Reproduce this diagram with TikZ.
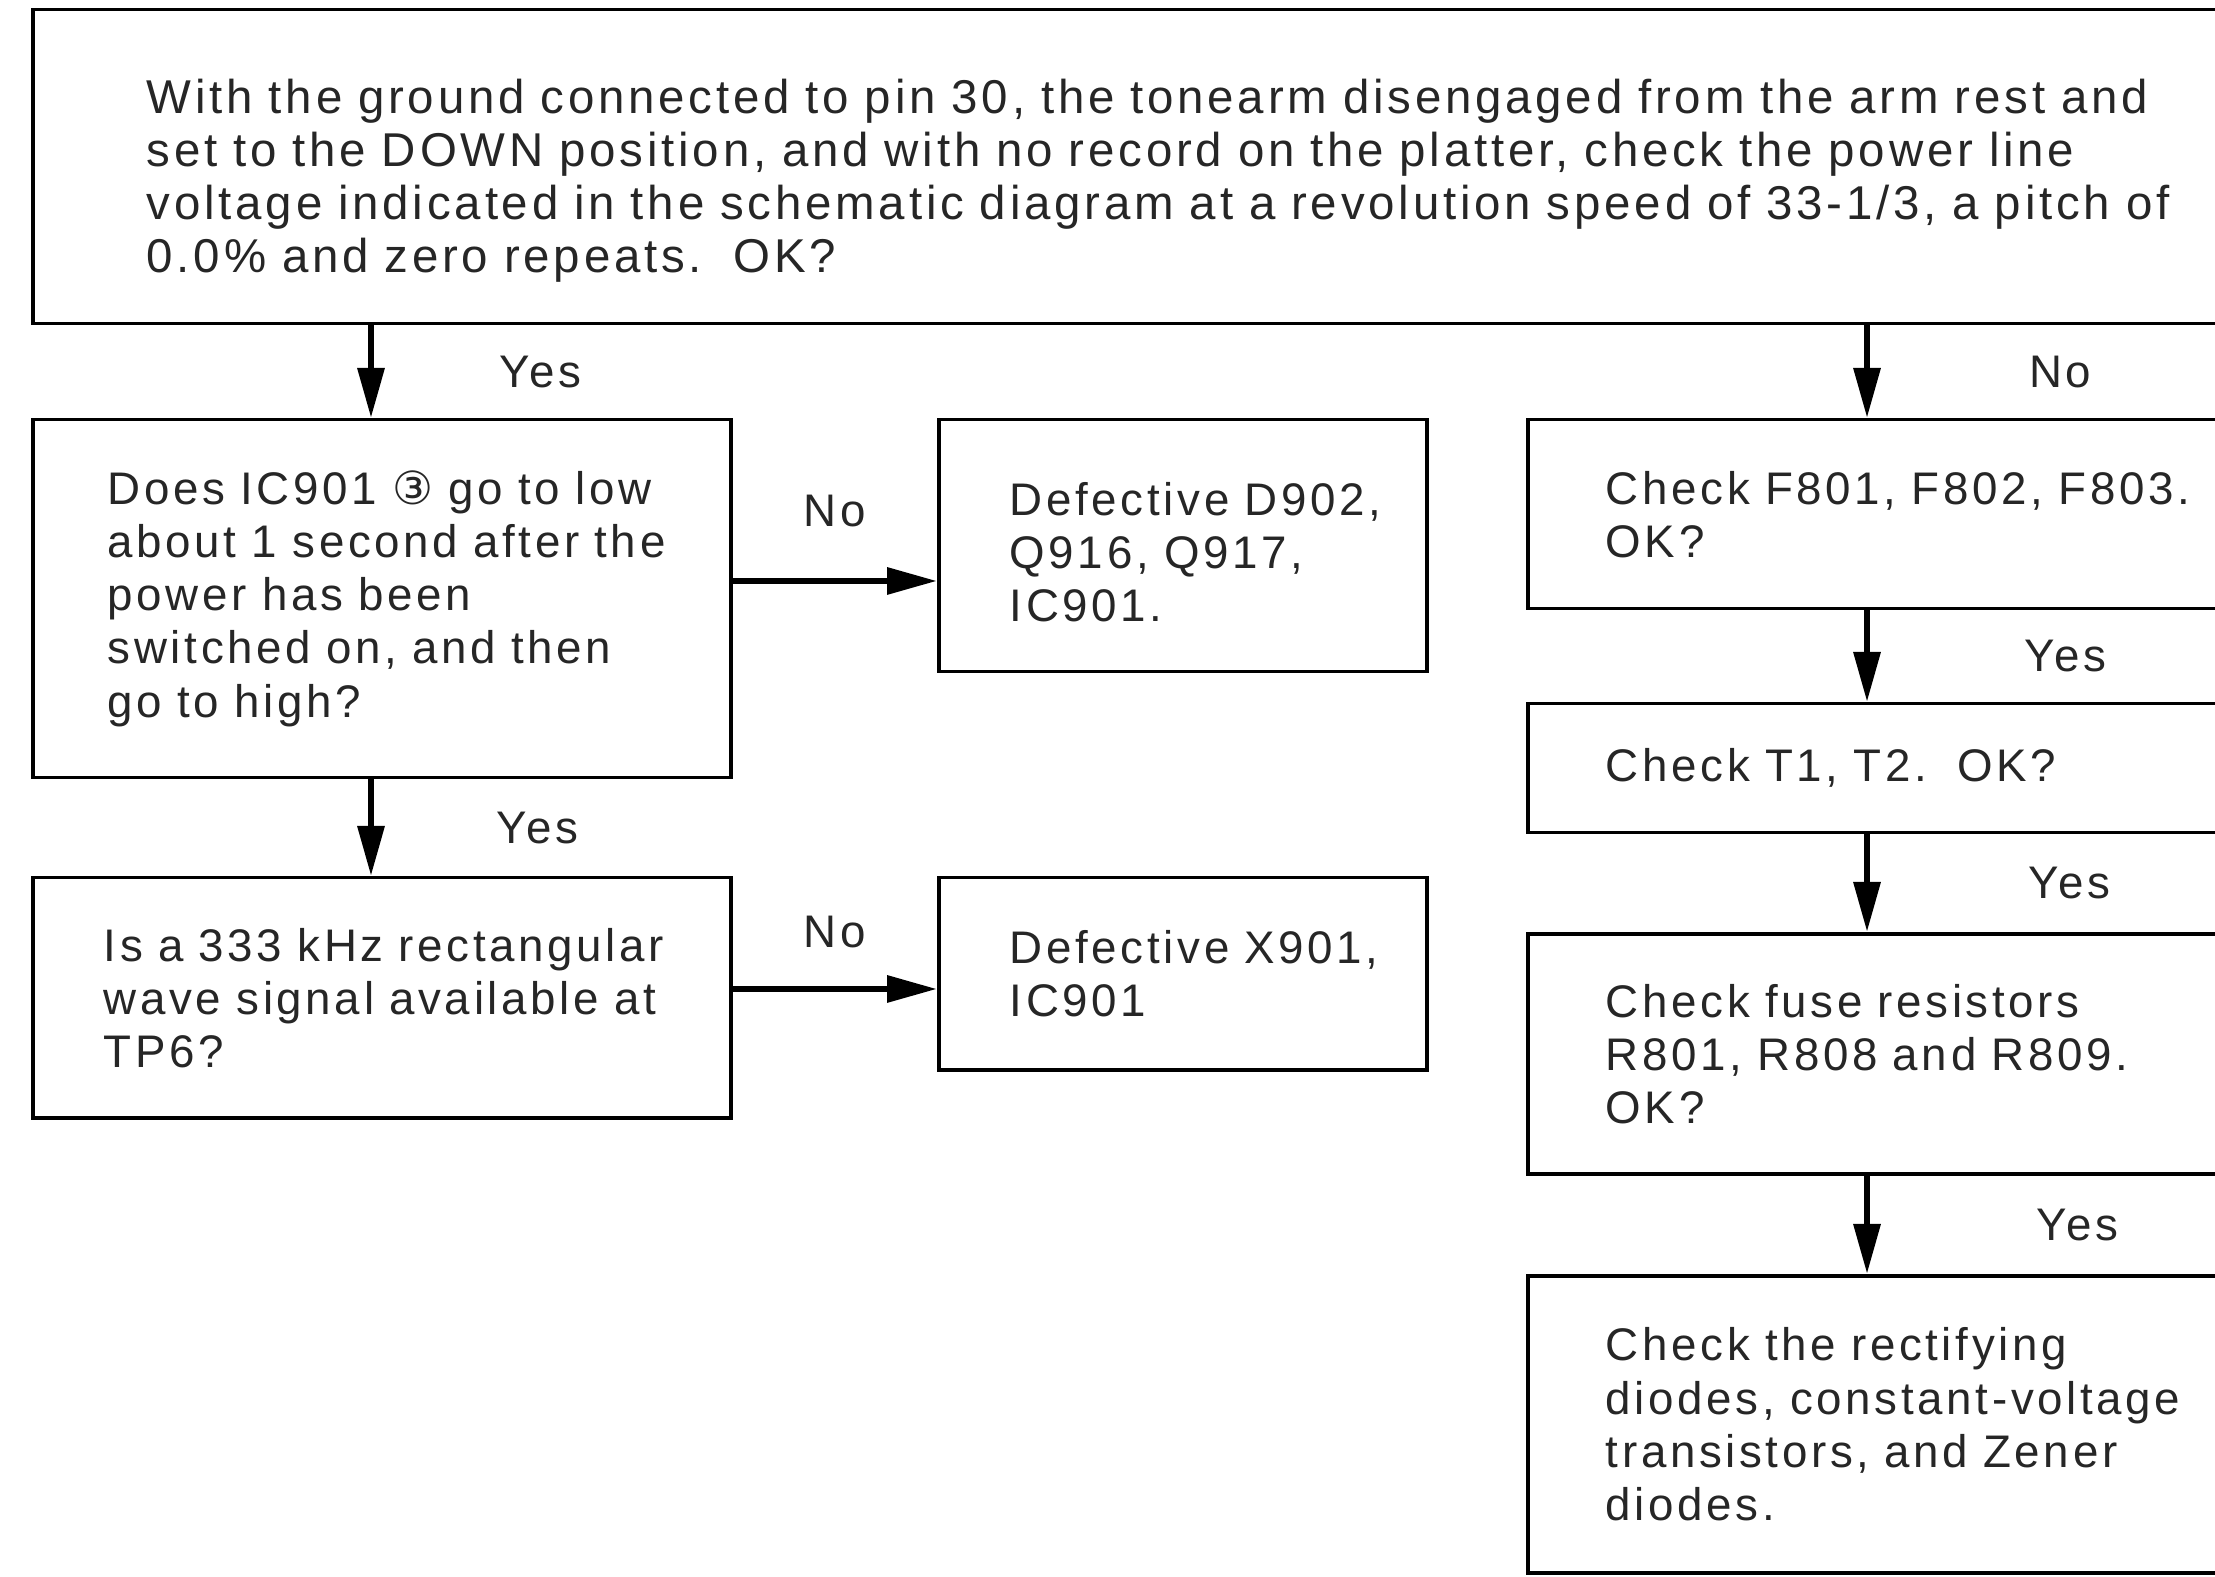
\documentclass[tikz,border=0pt]{standalone}
\usepackage{fontspec}
\setmainfont{Liberation Sans}[LetterSpace=8,WordSpace=1.5]
\newfontfamily\symfont{DejaVu Sans}
\usetikzlibrary{arrows.meta,positioning}

\begin{document}
\begin{tikzpicture}[
  box/.style={draw,line width=1pt,inner xsep=0pt,inner ysep=0pt,align=left,anchor=north west,
    text=black!85,font=\fontsize{13}{15.1}\selectfont,execute at begin node={\leftskip=#1}},
  box/.default=7.1mm,
  flow/.style={-{Triangle[length=5mm,width=2.6mm]},line width=1.8pt},
  lbl/.style={text=black!85,font=\fontsize{13}{15.1}\selectfont},
]
  \useasboundingbox (0,0) rectangle (22.15,15.77);
  \clip (0,0) rectangle (22.15,15.77);

  % top question
  \node[box=11.4mm,font=\fontsize{13.5}{15.1}\selectfont,text width=23cm,minimum height=3.14cm] (chk) at (0.31,15.69)
    {\rule{0pt}{6.2mm}With the ground connected to pin 30, the tonearm disengaged from the arm rest and\\
     set to the DOWN position, and with no record on the platter, check the power line\\
     voltage indicated in the schematic diagram at a revolution speed of 33-1/3, a pitch of\\
     0.0\% and zero repeats.\ \ OK?};

  % left branch
  \node[box=7.5mm,text width=6.98cm,minimum height=3.58cm] (q1) at (0.31,11.59)
    {Does IC901 {\symfont ③} go to low\\about 1 second after the\\power has been\\
     switched on, and then\\go to high?};
  \node[box,text width=4.88cm,minimum height=2.52cm] (d1) at (9.37,11.59)
    {\rule{0pt}{4.6mm}Defective D902,\\Q916, Q917,\\IC901.};
  \node[box,text width=6.98cm,minimum height=2.40cm] (q2) at (0.31,7.01)
    {Is a 333 kHz rectangular\\wave signal available at\\TP6?};
  \node[box,text width=4.88cm,minimum height=1.92cm] (d2) at (9.37,7.01)
    {Defective X901,\\IC901};

  % right branch
  \node[box=7.8mm,text width=8cm,minimum height=1.89cm] (c1) at (15.26,11.59)
    {Check F801, F802, F803.\\OK?};
  \node[box=7.8mm,text width=8cm,minimum height=1.29cm] (c2) at (15.26,8.75)
    {Check T1, T2.\ \ OK?};
  \node[box=7.8mm,text width=8cm,minimum height=2.40cm] (c3) at (15.26,6.45)
    {Check fuse resistors\\R801, R808 and R809.\\OK?};
  \node[box=7.8mm,text width=8cm,minimum height=2.97cm] (c4) at (15.26,3.03)
    {Check the rectifying\\diodes, constant-voltage\\transistors, and Zener\\diodes.};

  % arrow lines
  \coordinate (lc) at (3.71,0);
  \coordinate (rc) at (18.67,0);
  \coordinate (r1) at (0,9.96);
  \coordinate (r2) at (0,5.88);

  \draw[flow] (chk.south -| lc) -- node[lbl,xshift=16.9mm] {Yes} (q1.north -| lc);
  \draw[flow] (q1.south -| lc) -- node[lbl,xshift=16.6mm] {Yes} (q2.north -| lc);
  \draw[flow] (q1.east |- r1) -- node[lbl,yshift=7mm] {No} (d1.west |- r1);
  \draw[flow] (q2.east |- r2) -- node[lbl,yshift=5.7mm] {No} (d2.west |- r2);

  \draw[flow] (chk.south -| rc) -- node[lbl,xshift=19.3mm] {No} (c1.north -| rc);
  \draw[flow] (c1.south -| rc) -- node[lbl,xshift=19.8mm] {Yes} (c2.north -| rc);
  \draw[flow] (c2.south -| rc) -- node[lbl,xshift=20.2mm] {Yes} (c3.north -| rc);
  \draw[flow] (c3.south -| rc) -- node[lbl,xshift=21mm] {Yes} (c4.north -| rc);
\end{tikzpicture}
\end{document}
